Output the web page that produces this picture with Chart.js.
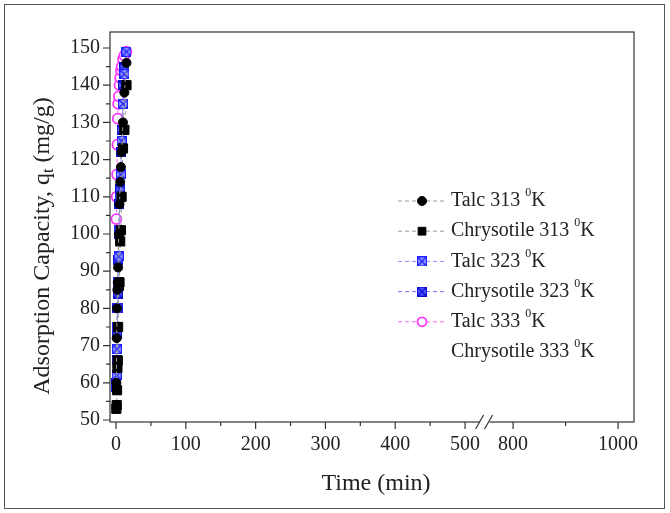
<!DOCTYPE html>
<html>
<head>
<meta charset="utf-8">
<script src="https://cdn.jsdelivr.net/npm/chart.js@4.4.1/dist/chart.umd.min.js"></script>
<style>
    html, body { margin: 0; padding: 0; background: #fff; }
    #wrap  { position: relative; width: 670px; height: 513px; }
    #frame { position: absolute; left: 4px; top: 4px; width: 659px; height: 503px; border: 1px solid #555; pointer-events: none; }
    canvas { position: absolute; left: 0; top: 0; }
</style>
</head>
<body>
<div id="wrap"><canvas id="kinetics" width="670" height="513"></canvas><div id="frame"></div></div>
<script>
/* ── data (time in min, q_t in mg/g) ── */
const timeMin   = [0.5, 1, 1.5, 2, 2.5, 3, 4, 5, 6, 7, 8, 10, 12, 15];
const talc313   = [60, 72, 80, 85, 87, 91, 100, 108, 114, 118, 122, 130, 138, 146];
const chrys313  = [53, 54, 58, 64, 66, 75, 86, 87, 98, 101, 110, 123, 128, 140];
const talc323   = [59, 62, 69, 75, 80, 87, 94, 101, 110, 116, 125, 135, 143, 149];
const chrys323  = [60, 66, 73, 80, 84, 93, 100, 108, 112, 122, 128, 140, 145, 149];
const talc333   = [104, 110, 116, 124, 131, 135, 137, 140, 142, 144, 145, 147, 148, 149];
const chrys333  = [98, 106, 113, 120, 126, 130, 134, 137, 140, 142, 144, 146, 147, 148];

const seriesLabels = ['Talc 313 ⁰K', 'Chrysotile 313 ⁰K', 'Talc 323 ⁰K', 'Chrysotile 323 ⁰K', 'Talc 333 ⁰K', 'Chrysotile 333 ⁰K'];

const xMajorTicks = [0, 100, 200, 300, 400, 500, 800, 1000];
const xMinorTicks = [50, 150, 250, 350, 450, 900];
const yMajorTicks = [50, 60, 70, 80, 90, 100, 110, 120, 130, 140, 150];
const yMinorTicks = [55, 65, 75, 85, 95, 105, 115, 125, 135, 145];

/* ── broken x axis: 500..800 is cut out ── */
const BREAK_FROM = 500, BREAK_TO = 800;
const SEG2_START = 568.8, SEG2_SCALE = 0.752;
function toAxis(v) { return v <= BREAK_FROM ? v : SEG2_START + (v - BREAK_TO) * SEG2_SCALE; }

const FONT = '"Liberation Serif", "Times New Roman", serif';

function crossSquare(fill, line) {
    const c = document.createElement('canvas');
    c.width = 10; c.height = 10;
    const g = c.getContext('2d');
    g.fillStyle = fill; g.fillRect(0, 0, 10, 10);
    g.strokeStyle = line; g.lineWidth = 1.4;
    g.beginPath(); g.moveTo(0, 0); g.lineTo(10, 10); g.moveTo(10, 0); g.lineTo(0, 10); g.stroke();
    g.lineWidth = 1.2; g.strokeRect(0.6, 0.6, 8.8, 8.8);
    return c;
}
const mark323a = crossSquare('#9aa0ff', '#2020ff');
const mark323b = crossSquare('#5a60ff', '#0c0cd0');

const pts = vals => vals.map((v, i) => ({ x: toAxis(timeMin[i]), y: v }));

function lineSet(label, vals, lineColor, extra) {
    return Object.assign({
        label, data: pts(vals),
        borderColor: lineColor, borderWidth: 1, borderDash: [4, 3],
        showLine: true, fill: false, tension: 0
    }, extra);
}

const datasets = [
    lineSet(seriesLabels[0], talc313, '#9a9a9a', { pointStyle: 'circle', pointRadius: 4.5, pointBackgroundColor: '#000', pointBorderColor: '#000', pointBorderWidth: 1 }),
    lineSet(seriesLabels[1], chrys313, '#9a9a9a', { pointStyle: 'rect', pointRadius: 6.5, pointBackgroundColor: '#000', pointBorderColor: '#000', pointBorderWidth: 1 }),
    lineSet(seriesLabels[2], talc323, '#8c8cff', { pointStyle: mark323a, pointRadius: 5 }),
    lineSet(seriesLabels[3], chrys323, '#7070ff', { pointStyle: mark323b, pointRadius: 5 }),
    lineSet(seriesLabels[4], talc333, '#ff66ff', { pointStyle: 'circle', pointRadius: 5, pointBackgroundColor: '#fff', pointBorderColor: '#ff33ff', pointBorderWidth: 1.8 }),
    lineSet(seriesLabels[5], chrys333, 'rgba(0,0,0,0)', { pointRadius: 0, showLine: false, borderWidth: 0 })
];

/* text with a raised or lowered small part */
function richWidth(ctx, parts) {
    return parts.reduce((w, p) => { ctx.font = `${p.size}px ${FONT}`; return w + ctx.measureText(p.text).width; }, 0);
}
function drawRich(ctx, parts, x, y) {
    parts.forEach(p => {
        ctx.font = `${p.size}px ${FONT}`;
        ctx.fillText(p.text, x, y + (p.dy || 0));
        x += ctx.measureText(p.text).width;
    });
}
function degreeParts(label, size) {
    const [head, tail] = label.split('⁰');
    return [{ text: head, size }, { text: '0', size: Math.round(size * 0.6), dy: -size * 0.4 }, { text: tail, size }];
}

const framePlugin = {
    id: 'frame',
    afterDraw(chart) {
        const { ctx, chartArea: a, scales: { x, y } } = chart;
        ctx.save();
        ctx.strokeStyle = '#333'; ctx.lineWidth = 1.2;
        ctx.strokeRect(a.left, a.top, a.right - a.left, a.bottom - a.top);

        // tick marks, outward
        ctx.beginPath();
        xMajorTicks.forEach(v => { const px = x.getPixelForValue(toAxis(v)); ctx.moveTo(px, a.bottom); ctx.lineTo(px, a.bottom + 7); });
        xMinorTicks.forEach(v => { const px = x.getPixelForValue(toAxis(v)); ctx.moveTo(px, a.bottom); ctx.lineTo(px, a.bottom + 4); });
        yMajorTicks.forEach(v => { const py = y.getPixelForValue(v); ctx.moveTo(a.left, py); ctx.lineTo(a.left - 7, py); });
        yMinorTicks.forEach(v => { const py = y.getPixelForValue(v); ctx.moveTo(a.left, py); ctx.lineTo(a.left - 4, py); });
        ctx.stroke();

        // axis break "//"
        const bx = (x.getPixelForValue(toAxis(BREAK_FROM)) + x.getPixelForValue(toAxis(BREAK_TO))) / 2 - 4.5;
        ctx.fillStyle = '#fff';
        ctx.fillRect(bx - 5, a.bottom - 2, 10, 4);
        ctx.beginPath();
        [-5, 4].forEach(d => { ctx.moveTo(bx + d - 4, a.bottom + 7); ctx.lineTo(bx + d + 4, a.bottom - 7); });
        ctx.stroke();

        // axis titles
        ctx.fillStyle = '#222';
        ctx.textBaseline = 'middle'; ctx.textAlign = 'center';
        ctx.font = `24px ${FONT}`;
        ctx.fillText('Time (min)', 376, 484);

        const yParts = [
            { text: 'Adsorption Capacity, q', size: 24 },
            { text: 't', size: 16, dy: 6 },
            { text: ' (mg/g)', size: 24 }
        ];
        ctx.save();
        ctx.translate(43, 246);
        ctx.rotate(-Math.PI / 2);
        ctx.textAlign = 'left';
        drawRich(ctx, yParts, -richWidth(ctx, yParts) / 2, 0);
        ctx.restore();

        // legend
        ctx.textAlign = 'left'; ctx.textBaseline = 'middle';
        chart.data.datasets.forEach((ds, i) => {
            const ly = 201 + i * 30.2;
            if (ds.pointRadius > 0) {
                ctx.save();
                ctx.strokeStyle = ds.borderColor; ctx.lineWidth = 1; ctx.setLineDash([4, 3]);
                ctx.beginPath(); ctx.moveTo(398, ly); ctx.lineTo(446, ly); ctx.stroke();
                ctx.restore();
                ctx.save();
                ctx.fillStyle = ds.pointBackgroundColor || '#000';
                ctx.strokeStyle = ds.pointBorderColor || '#000';
                ctx.lineWidth = ds.pointBorderWidth || 1;
                const r = ds.pointStyle === 'rect' ? 5.5 : 4.5;
                Chart.helpers.drawPoint(ctx, { pointStyle: ds.pointStyle, radius: r, rotation: 0, borderWidth: ds.pointBorderWidth || 1 }, 422, ly);
                ctx.restore();
            }
            ctx.fillStyle = '#222';
            drawRich(ctx, degreeParts(ds.label, 20), 451, ly);
        });
        ctx.restore();
    }
};

new Chart(document.getElementById('kinetics').getContext('2d'), {
    type: 'scatter',
    data: { datasets },
    options: {
        responsive: false, animation: false,
        layout: { padding: { left: 0, top: 32, right: 36, bottom: 0 } },
        plugins: { legend: { display: false }, tooltip: { enabled: false } },
        scales: {
            x: {
                type: 'linear', min: -8.6, max: 742,
                grid: { display: false }, border: { display: false },
                afterBuildTicks: s => { s.ticks = xMajorTicks.map(v => ({ value: toAxis(v) })); },
                afterFit: s => { s.height = 91; },
                ticks: { autoSkip: false, maxRotation: 0, padding: 3, color: '#222', font: { family: FONT, size: 20 },
                         callback: (val, idx) => xMajorTicks[idx] }
            },
            y: {
                type: 'linear', min: 49.46, max: 154.3,
                grid: { display: false }, border: { display: false },
                afterBuildTicks: s => { s.ticks = yMajorTicks.map(v => ({ value: v })); },
                afterFit: s => { s.width = 110; },
                ticks: { autoSkip: false, padding: 2, color: '#222', font: { family: FONT, size: 20 } }
            }
        }
    },
    plugins: [framePlugin]
});
</script>
</body>
</html>
